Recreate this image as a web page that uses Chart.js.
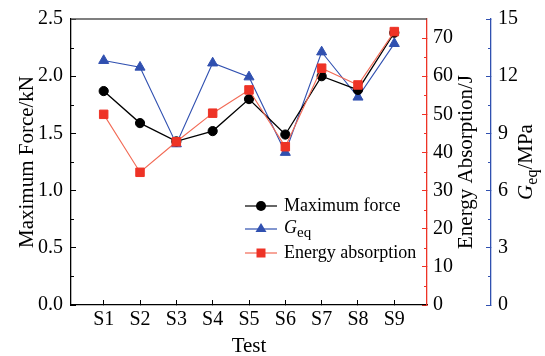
<!DOCTYPE html>
<html>
<head>
<meta charset="utf-8">
<script src="https://cdn.jsdelivr.net/npm/chart.js@4.4.1/dist/chart.umd.min.js"></script>
<style>
body { margin: 0; background: #fff; }
canvas { display: block; }
</style>
</head>
<body>
<canvas id="chart" width="545" height="356"></canvas>
<script>
const tests = ['S1', 'S2', 'S3', 'S4', 'S5', 'S6', 'S7', 'S8', 'S9'];
const maxForce = [1.87, 1.59, 1.43, 1.52, 1.80, 1.49, 2.00, 1.88, 2.38];
const gEq = [12.82, 12.47, 8.45, 12.69, 11.96, 8.0, 13.27, 10.9, 13.71];
const energy = [50.0, 34.8, 42.8, 50.3, 56.4, 41.5, 62.1, 57.7, 71.7];

const FONT = '"Liberation Serif", "DejaVu Serif", serif';
const BLUE = '#3050b0';
const RED = '#ee3326';
const RED_LINE = '#f26a55';

function pts(arr) {
	return arr.map(function (v, i) { return { x: i + 1, y: v }; });
}

// minor ticks, top frame, axis titles and legend
const extras = {
	id: 'extras',
	afterDraw: function (chart) {
		const ctx = chart.ctx;
		const a = chart.chartArea;
		const s = chart.scales;
		ctx.save();

		function minor(scale, x, dir, color) {
			const t = scale.ticks;
			ctx.strokeStyle = color;
			ctx.lineWidth = 1;
			for (let i = 0; i < t.length - 1; i++) {
				const y = Math.round(scale.getPixelForValue((t[i].value + t[i + 1].value) / 2)) + 0.5;
				ctx.beginPath();
				ctx.moveTo(x, y);
				ctx.lineTo(x + dir * 3, y);
				ctx.stroke();
			}
		}
		minor(s.y, a.left, 1, '#000');
		minor(s.y1, a.right, -1, RED);
		minor(s.y2, s.y2.left, -1, BLUE);

		// top frame
		ctx.strokeStyle = '#555';
		ctx.lineWidth = 1.5;
		ctx.beginPath();
		ctx.moveTo(a.left, a.top);
		ctx.lineTo(a.right, a.top);
		ctx.stroke();

		ctx.fillStyle = '#000';
		ctx.font = '21px ' + FONT;
		ctx.textBaseline = 'middle';
		ctx.textAlign = 'center';
		ctx.fillText('Test', (a.left + a.right) / 2, 346);

		const cy = (a.top + a.bottom) / 2;
		function vtext(txt, x) {
			ctx.save();
			ctx.translate(x, cy);
			ctx.rotate(-Math.PI / 2);
			ctx.fillText(txt, 0, 0);
			ctx.restore();
		}
		vtext('Maximum Force/kN', 27);
		vtext('Energy Absorption/J', 466);

		// G_eq/MPa with subscript
		ctx.save();
		ctx.translate(525, cy);
		ctx.rotate(-Math.PI / 2);
		ctx.textAlign = 'left';
		ctx.textBaseline = 'alphabetic';
		ctx.font = 'italic 21px ' + FONT;
		const g = ctx.measureText('G').width;
		ctx.font = '16px ' + FONT;
		const eq = ctx.measureText('eq').width;
		ctx.font = '21px ' + FONT;
		const rest = ctx.measureText('/MPa').width;
		let x0 = -(g + eq + rest) / 2;
		ctx.font = 'italic 21px ' + FONT;
		ctx.fillText('G', x0, 7);
		ctx.font = '16px ' + FONT;
		ctx.fillText('eq', x0 + g, 12);
		ctx.font = '21px ' + FONT;
		ctx.fillText('/MPa', x0 + g + eq, 7);
		ctx.restore();

		// legend
		const rows = [
			{ y: 206, line: '#000', fill: '#000', shape: 'circle' },
			{ y: 229, line: BLUE, fill: BLUE, shape: 'triangle' },
			{ y: 253, line: RED_LINE, fill: RED, shape: 'rect' }
		];
		rows.forEach(function (r) {
			ctx.strokeStyle = r.line;
			ctx.lineWidth = 1.2;
			ctx.beginPath();
			ctx.moveTo(245, r.y);
			ctx.lineTo(277, r.y);
			ctx.stroke();
			ctx.fillStyle = r.fill;
			ctx.beginPath();
			if (r.shape === 'circle') {
				ctx.arc(261, r.y, 5, 0, Math.PI * 2);
			} else if (r.shape === 'triangle') {
				ctx.moveTo(261, r.y - 6);
				ctx.lineTo(266.5, r.y + 3);
				ctx.lineTo(255.5, r.y + 3);
				ctx.closePath();
			} else {
				ctx.rect(256.5, r.y - 4.5, 9, 9);
			}
			ctx.fill();
		});
		ctx.fillStyle = '#000';
		ctx.textAlign = 'left';
		ctx.textBaseline = 'middle';
		ctx.font = '18px ' + FONT;
		ctx.fillText('Maximum force', 284, 206);
		ctx.fillText('Energy absorption', 284, 253);
		ctx.font = 'italic 18px ' + FONT;
		ctx.fillText('G', 284, 228);
		const gw = ctx.measureText('G').width;
		ctx.font = '15px ' + FONT;
		ctx.fillText('eq', 284 + gw, 233);

		ctx.restore();
	}
};

function yAxis(opt) {
	return {
		type: 'linear',
		position: opt.position,
		weight: opt.weight,
		min: opt.min,
		max: opt.max,
		afterFit: function (scale) {
			scale.width = opt.width;
			scale.paddingTop = 0;
			scale.paddingBottom = 0;
		},
		border: { color: opt.color, width: 1.3 },
		grid: { drawOnChartArea: false, tickLength: -5, color: opt.color, tickColor: opt.color },
		ticks: {
			stepSize: opt.step,
			includeBounds: false,
			padding: opt.padding,
			color: '#000',
			font: { family: FONT, size: 20 },
			callback: opt.label
		}
	};
}

new Chart(document.getElementById('chart'), {
	type: 'line',
	data: {
		datasets: [{
			label: 'Energy absorption',
			data: pts(energy),
			yAxisID: 'y1',
			order: 1,
			borderColor: RED_LINE,
			borderWidth: 1.1,
			pointStyle: 'rect',
			pointRadius: 6,
			pointBackgroundColor: RED,
			pointBorderColor: RED,
			pointBorderWidth: 1
		}, {
			label: 'Maximum force',
			data: pts(maxForce),
			yAxisID: 'y',
			order: 2,
			borderColor: '#000',
			borderWidth: 1.3,
			pointStyle: 'circle',
			pointRadius: 4.6,
			pointBackgroundColor: '#000',
			pointBorderColor: '#000',
			pointBorderWidth: 1
		}, {
			label: 'Geq',
			data: pts(gEq),
			yAxisID: 'y2',
			order: 3,
			borderColor: BLUE,
			borderWidth: 1.1,
			pointStyle: 'triangle',
			pointRadius: 5.8,
			pointBackgroundColor: BLUE,
			pointBorderColor: BLUE,
			pointBorderWidth: 1
		}]
	},
	options: {
		responsive: false,
		animation: false,
		layout: { padding: { top: 19, left: 0, right: 0, bottom: 0 } },
		plugins: { legend: { display: false }, tooltip: { enabled: false } },
		scales: {
			x: {
				type: 'linear',
				position: 'bottom',
				min: 0.1,
				max: 9.9,
				afterBuildTicks: function (scale) {
					scale.ticks = tests.map(function (t, i) { return { value: i + 1 }; });
				},
				afterFit: function (scale) { scale.height = 51; },
				border: { color: '#000', width: 1.3 },
				grid: { drawOnChartArea: false, tickLength: -5, color: '#000' },
				ticks: {
					autoSkip: false,
					maxRotation: 0,
					padding: 8,
					color: '#000',
					font: { family: FONT, size: 20 },
					callback: function (v) { return tests[v - 1]; }
				}
			},
			y: yAxis({ position: 'left', weight: 0, min: 0, max: 2.5, step: 0.5, width: 71, padding: 13, color: '#000',
				label: function (v) { return v.toFixed(1); } }),
			y1: yAxis({ position: 'right', weight: 0, min: 0, max: 75, step: 10, width: 64, padding: 11, color: RED,
				label: function (v) { return v; } }),
			y2: yAxis({ position: 'right', weight: 1, min: 0, max: 15, step: 3, width: 54, padding: 12, color: BLUE,
				label: function (v) { return v; } })
		}
	},
	plugins: [extras]
});
</script>
</body>
</html>
